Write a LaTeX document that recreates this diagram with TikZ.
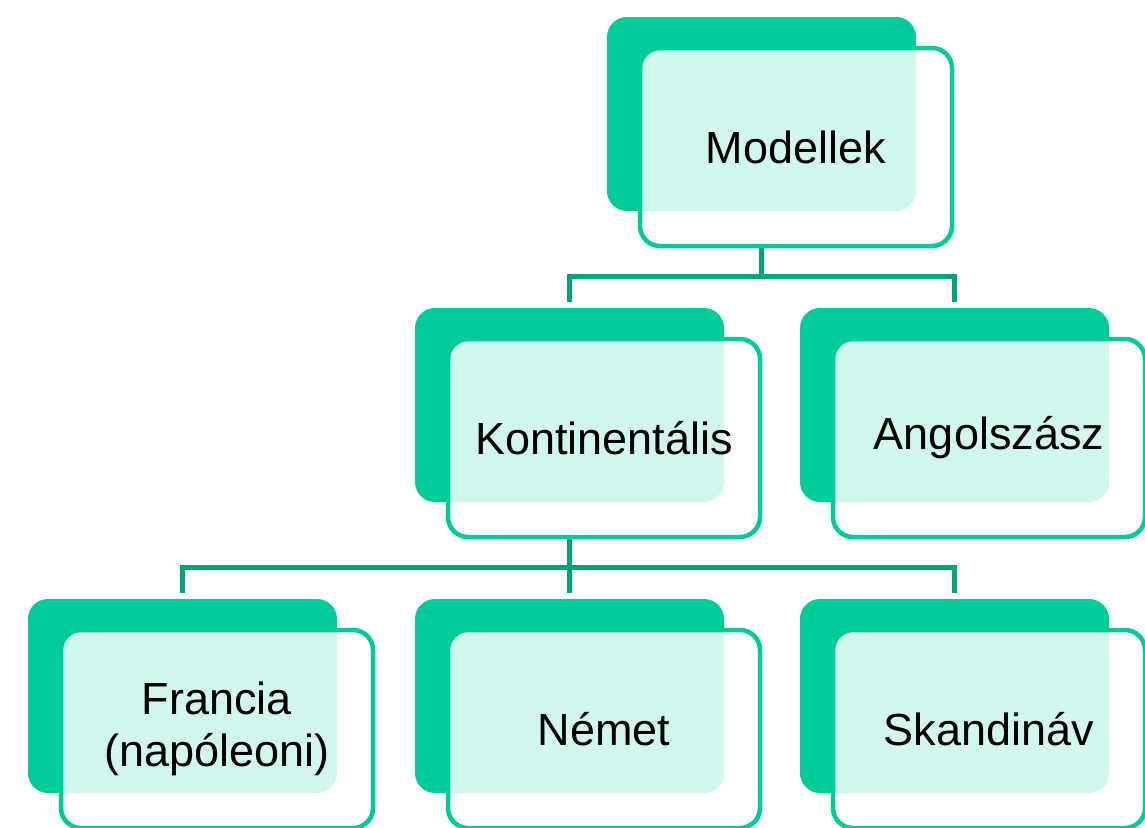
\documentclass[tikz,border=0pt]{standalone}
\usepackage{fontspec}
\setmainfont{Liberation Sans}
\usetikzlibrary{calc,backgrounds}
\definecolor{boxgreen}{HTML}{00CC99}
\definecolor{linegreen}{HTML}{00A47C}
\colorlet{overlapfill}{boxgreen!18!white}
\tikzset{
  backbox/.style={fill=boxgreen, rounded corners=20pt, minimum width=309pt, minimum height=194pt, inner sep=0pt, outer sep=0pt},
  frontbox/.style={draw=boxgreen, line width=4.5pt, rounded corners=20pt, minimum width=312pt, minimum height=198pt, inner sep=0pt, outer sep=0pt, align=center, font=\fontsize{45}{52}\selectfont},
  conn/.style={draw=linegreen, line width=5pt}
}
% #1 name, #2 x, #3 y (back top-left), #4 text
\newcommand\orgbox[4]{%
  \node[backbox] (#1-back) at (#2+154.5, #3+97) {};
  \begin{scope}
    \clip[rounded corners=20pt] (#2+33, #3+31) rectangle (#2+345, #3+229);
    \fill[white] (#2+20, #3+20) rectangle (#2+360, #3+240);
    \fill[overlapfill, rounded corners=20pt] (#2, #3) rectangle (#2+309, #3+194);
  \end{scope}
  \node[frontbox] (#1) at (#2+189, #3+130) {#4};
}
\begin{document}
\begin{tikzpicture}[x=1pt, y=-1pt]
\useasboundingbox (0,0) rectangle (1145,827);
\coordinate (bus1) at (0,276);
\coordinate (bus2) at (0,567);
% boxes
\orgbox{mod}{607}{17}{Modellek}
\orgbox{kont}{415}{308}{Kontinentális}
\orgbox{ang}{800}{308}{Angolszász}
\orgbox{fran}{28}{599}{Francia\\(napóleoni)}
\orgbox{nem}{415}{599}{Német}
\orgbox{ska}{800}{599}{Skandináv}
% connectors
\begin{scope}[on background layer]
\draw[conn] (mod-back.center) -- (mod-back.center |- bus1);
\draw[conn] ([yshift=6pt]kont-back.north) |- (bus1 -| ang-back.center) -- ([yshift=6pt]ang-back.north);
\draw[conn] (kont-back.center) -- (kont-back.center |- bus2);
\draw[conn] ([yshift=6pt]fran-back.north) |- (bus2 -| ska-back.center) -- ([yshift=6pt]ska-back.north);
\draw[conn] (nem-back.center |- bus2) -- ([yshift=6pt]nem-back.north);
\end{scope}
\end{tikzpicture}
\end{document}
